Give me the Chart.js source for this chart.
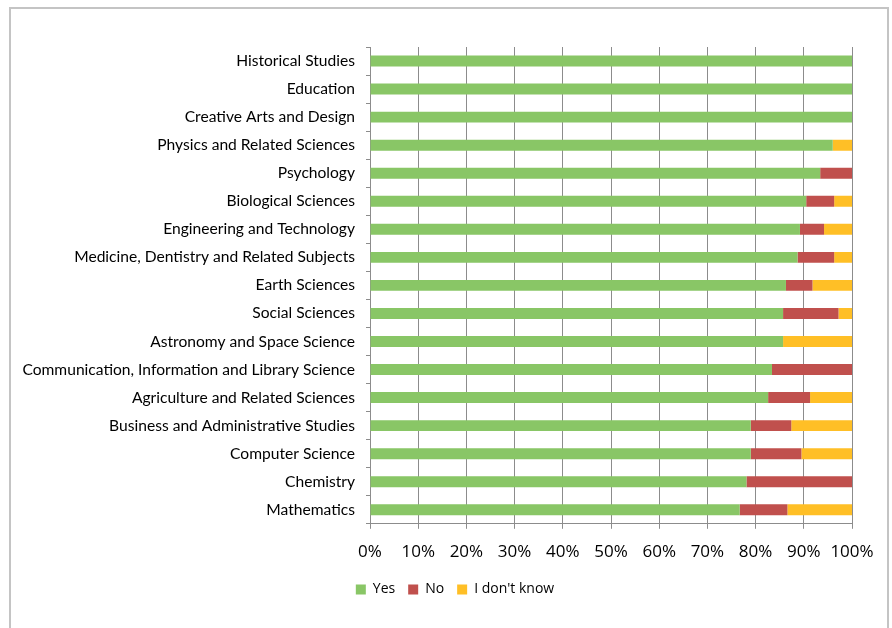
<!DOCTYPE html>
<html>
<head>
<meta charset="utf-8">
<script src="https://cdn.jsdelivr.net/npm/chart.js@4/dist/chart.umd.min.js"></script>
<style>
  html, body { margin: 0; padding: 0; background: #fff; width: 892px; height: 628px; overflow: hidden; }
  #frame { position: absolute; left: 9px; top: 7px; width: 880px; height: 700px; border: 2px solid #c4c4c4; box-sizing: border-box; }
  #c { position: absolute; left: 0; top: 0; }
</style>
</head>
<body>
<div id="frame"></div>
<canvas id="c" width="892" height="628"></canvas>
<script>
const categories = [
  "Historical Studies",
  "Education",
  "Creative Arts and Design",
  "Physics and Related Sciences",
  "Psychology",
  "Biological Sciences",
  "Engineering and Technology",
  "Medicine, Dentistry and Related Subjects",
  "Earth Sciences",
  "Social Sciences",
  "Astronomy and Space Science",
  "Communication, Information and Library Science",
  "Agriculture and Related Sciences",
  "Business and Administrative Studies",
  "Computer Science",
  "Chemistry",
  "Mathematics"
];
const yesValues  = [100, 100, 100, 96.0, 93.4, 90.5, 89.2, 88.7, 86.3, 85.7, 85.7, 83.4, 82.6, 79.0, 79.0, 78.1, 76.7];
const noValues   = [0, 0, 0, 0, 6.6, 5.8, 5.0, 7.6, 5.5, 11.5, 0, 16.6, 8.7, 8.4, 10.5, 21.9, 9.9];
const dkValues   = [0, 0, 0, 4.0, 0, 3.7, 5.8, 3.7, 8.2, 2.8, 14.3, 0, 8.7, 12.6, 10.5, 0, 13.4];
const seriesNames = ["Yes", "No", "I don't know"];
const xTicks = [0, 10, 20, 30, 40, 50, 60, 70, 80, 90, 100];

const gridCol = '#8c8c8c';
const catFont = { family: 'Lato', size: 15.6 };
const tickFont = { family: 'Open Sans', size: 17 };

const legendShift = {
  id: 'legendShift',
  afterLayout(chart) {
    const l = chart.legend;
    if (l) { l.left += 22; l.right += 22; }
  }
};

new Chart(document.getElementById('c'), {
  type: 'bar',
  data: {
    labels: categories,
    datasets: [
      { label: seriesNames[0], data: yesValues, backgroundColor: '#89C666' },
      { label: seriesNames[1], data: noValues,  backgroundColor: '#C0504D' },
      { label: seriesNames[2], data: dkValues,  backgroundColor: '#FFBF26' }
    ]
  },
  plugins: [legendShift],
  options: {
    indexAxis: 'y',
    responsive: false,
    devicePixelRatio: 1,
    animation: false,
    datasets: { bar: { barPercentage: 0.39, categoryPercentage: 1.0, borderWidth: 0 } },
    layout: { padding: { left: 14, right: 40, top: 47, bottom: 21.6 } },
    plugins: {
      tooltip: { enabled: false },
      legend: {
        position: 'bottom',
        align: 'center',
        labels: {
          boxWidth: 10, boxHeight: 10, padding: 13,
          color: '#000',
          font: { family: 'Open Sans', size: 14 }
        }
      }
    },
    scales: {
      x: {
        stacked: true,
        min: 0, max: 100,
        afterBuildTicks: (s) => { s.ticks = xTicks.map(v => ({ value: v })); },
        ticks: { callback: (v) => v + '%', color: '#000', font: tickFont, padding: 13, maxRotation: 0 },
        grid: { color: gridCol, lineWidth: 1, tickLength: 5, drawTicks: true },
        border: { display: true, color: gridCol, width: 1 },
        afterFit: (s) => { s.height = 45.6; }
      },
      y: {
        stacked: true,
        ticks: { color: '#000', font: catFont, padding: 11, autoSkip: false },
        grid: { drawOnChartArea: false, drawTicks: true, tickLength: 4, color: gridCol, offset: true },
        border: { display: true, color: gridCol, width: 1 },
        afterFit: (s) => { s.width = 356; }
      }
    }
  }
});
</script>
</body>
</html>
